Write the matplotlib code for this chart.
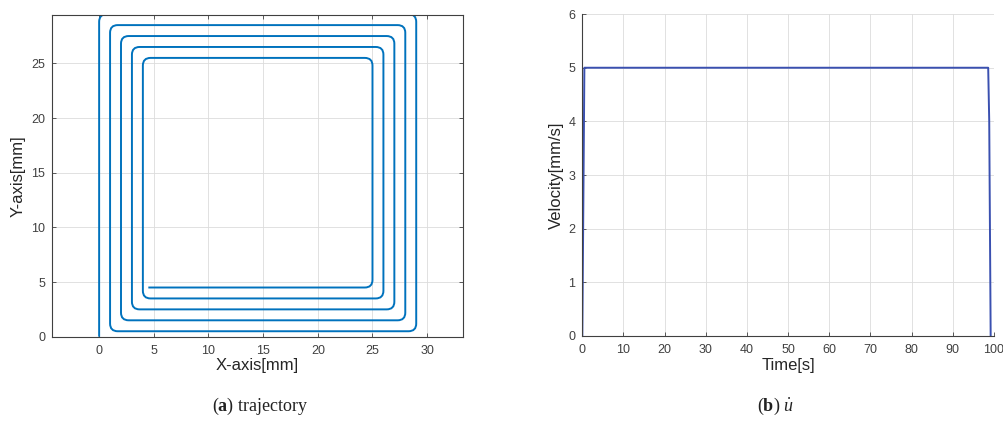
import numpy as np
import matplotlib
matplotlib.use('Agg')
import matplotlib.pyplot as plt
from matplotlib.path import Path
from matplotlib.patches import PathPatch

# spiral waypoints of the tool path [mm]
traj_x = [0, 0, 29, 29, 1, 1, 28, 28, 2, 2, 27, 27, 3, 3, 26, 26, 4, 4, 25, 25, 4.5]
traj_y = [0, 29.5, 29.5, 0.5, 0.5, 28.5, 28.5, 1.5, 1.5, 27.5, 27.5, 2.5, 2.5,
          26.5, 26.5, 3.5, 3.5, 25.5, 25.5, 4.5, 4.5]

# feed velocity profile
time_s = [0, 0.5, 98.6, 98.85, 99.2]
vel = [0, 5, 5, 4.0, 0]

x_ticks = [0, 5, 10, 15, 20, 25, 30]
y_ticks = [0, 5, 10, 15, 20, 25]
t_ticks = list(range(0, 101, 10))
v_ticks = list(range(0, 7))

plt.rcParams['font.family'] = ['Liberation Sans', 'DejaVu Sans']
plt.rcParams['axes.edgecolor'] = '#404040'
plt.rcParams['xtick.color'] = '#404040'
plt.rcParams['ytick.color'] = '#404040'
plt.rcParams['xtick.labelsize'] = 9
plt.rcParams['ytick.labelsize'] = 9
plt.rcParams['xtick.direction'] = 'in'
plt.rcParams['ytick.direction'] = 'in'
plt.rcParams['xtick.major.size'] = 3
plt.rcParams['ytick.major.size'] = 3
plt.rcParams['xtick.major.width'] = 0.6
plt.rcParams['ytick.major.width'] = 0.6
plt.rcParams['axes.linewidth'] = 0.8
# serif maths for the sub-captions
plt.rcParams['mathtext.fontset'] = 'custom'
plt.rcParams['mathtext.rm'] = 'Liberation Serif'
plt.rcParams['mathtext.bf'] = 'Liberation Serif:bold'
plt.rcParams['mathtext.it'] = 'Liberation Serif:italic'


def rounded_path(xs, ys, r=0.7):
    pts = np.column_stack([xs, ys]).astype(float)
    verts = [pts[0]]
    codes = [Path.MOVETO]
    for i in range(1, len(pts) - 1):
        p0, p1, p2 = pts[i - 1], pts[i], pts[i + 1]
        d_in = (p1 - p0) / np.linalg.norm(p1 - p0)
        d_out = (p2 - p1) / np.linalg.norm(p2 - p1)
        rr = min(r, np.linalg.norm(p1 - p0) / 2, np.linalg.norm(p2 - p1) / 2)
        verts += [p1 - d_in * rr, p1, p1 + d_out * rr]
        codes += [Path.LINETO, Path.CURVE3, Path.CURVE3]
    verts.append(pts[-1])
    codes.append(Path.LINETO)
    return Path(verts, codes)


fig = plt.figure(figsize=(10.04, 4.23), dpi=100)

# (a) trajectory
ax1 = fig.add_axes([0.0518, 0.204, 0.4097, 0.7612])
ax1.add_patch(PathPatch(rounded_path(traj_x, traj_y), fill=False,
                        edgecolor='#0072BD', linewidth=1.4))
ax1.set_xlim(-4.31, 33.31)
ax1.set_ylim(0, 29.45)
ax1.set_xticks(x_ticks)
ax1.set_yticks(y_ticks)
ax1.tick_params(top=True, right=True, pad=6)
ax1.tick_params(axis='y', pad=5)
ax1.grid(True, color='#dcdcdc', linewidth=0.6)
ax1.set_axisbelow(True)
ax1.set_xlabel('X-axis[mm]', fontsize=12, color='#262626', labelpad=1)
ax1.set_ylabel('Y-axis[mm]', fontsize=12, color='#262626', labelpad=4)

# (b) velocity
ax2 = fig.add_axes([0.58, 0.2057, 0.41, 0.761])
ax2.plot(time_s, vel, color='#3a50b0', linewidth=1.4)
ax2.set_xlim(0, 100)
ax2.set_ylim(0, 6)
ax2.set_xticks(t_ticks)
ax2.set_yticks(v_ticks)
ax2.tick_params(pad=6)
ax2.tick_params(axis='y', pad=5)
ax2.spines['top'].set_visible(False)
ax2.spines['right'].set_visible(False)
ax2.grid(True, color='#dcdcdc', linewidth=0.6)
ax2.set_axisbelow(True)
ax2.set_xlabel('Time[s]', fontsize=12, color='#262626', labelpad=1)
ax2.set_ylabel('Velocity[mm/s]', fontsize=12, color='#262626', labelpad=3)

# sub-captions
fig.text(0.259, 0.038, r'($\mathbf{a}$) trajectory', ha='center', va='center',
         fontsize=13, family='Liberation Serif', color='#222222')
fig.text(0.772, 0.038, r'($\mathbf{b}$) $\dot{u}$', ha='center', va='center',
         fontsize=13, family='Liberation Serif', color='#222222')

fig.savefig('out.png', dpi=100)
